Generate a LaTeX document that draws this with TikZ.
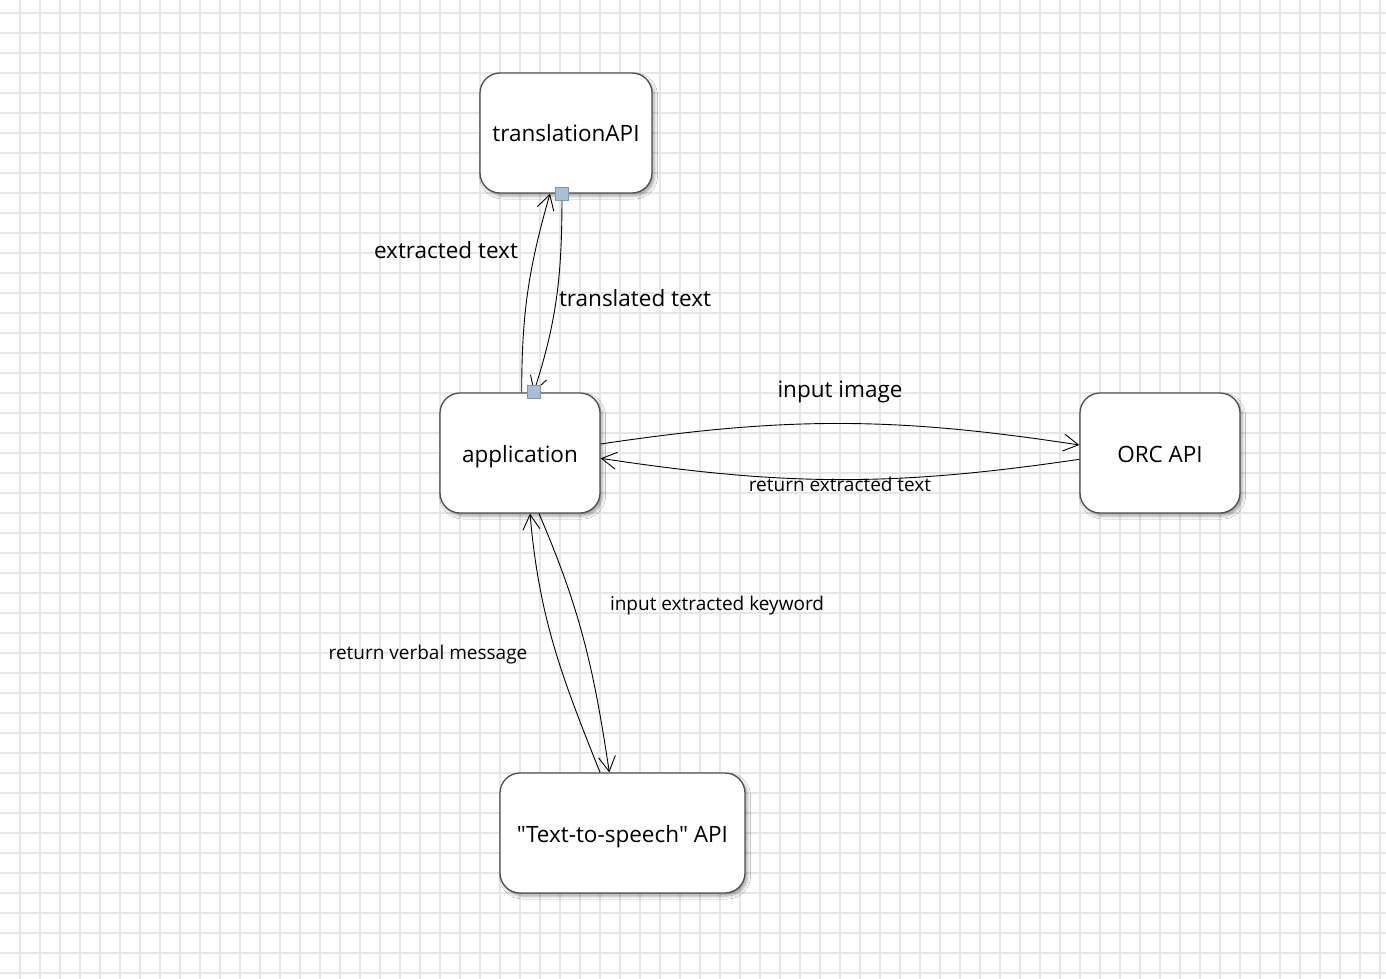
\documentclass[tikz,border=0pt]{standalone}
\usepackage{fontspec}
\setmainfont{Open Sans}
\usetikzlibrary{arrows.meta,shadows.blur}
\definecolor{gridc}{HTML}{E6E6E6}
\definecolor{boxborder}{HTML}{4D4D4D}
\definecolor{handlefill}{HTML}{A9BFD8}
\definecolor{handleborder}{HTML}{7D96B4}
\tikzset{
  gridline/.style={draw=gridc, line width=1.3pt},
  statebox/.style={draw=boxborder, line width=1.3pt, fill=white, rounded corners=20pt,
    minimum height=120pt, inner sep=0pt, font=\fontsize{22.5}{26}\selectfont,
    text height=18pt, text depth=0pt,
    blur shadow={shadow xshift=2.5pt, shadow yshift=-3pt, shadow blur radius=3pt, shadow opacity=35}},
  handle/.style={draw=handleborder, line width=0.8pt, fill=handlefill, minimum size=13pt, inner sep=0pt},
  flow/.style={draw=black, line width=0.9pt, -{Straight Barb[length=15pt,width=17pt,line width=0.9pt]}},
  biglabel/.style={inner sep=0pt, font=\fontsize{22.5}{26}\selectfont},
  smalllabel/.style={inner sep=0pt, font=\fontsize{19}{22}\selectfont},
}
\begin{document}
\begin{tikzpicture}[x=1pt,y=1pt]
\useasboundingbox (0,0) rectangle (1386,-979);
\fill[white] (0,0) rectangle (1386,-979);
\foreach \gx in {20,40,...,1380} \draw[gridline] (\gx,0) -- (\gx,-979);
\foreach \gy in {13,33,...,973} \draw[gridline] (0,-\gy) -- (1386,-\gy);

\node[statebox, minimum width=172pt] (trans) at (566,-133) {translationAPI};
\node[statebox, minimum width=160pt] (app) at (520,-453) {application};
\node[statebox, minimum width=160pt] (orc) at (1160,-453) {ORC API};
\node[statebox, minimum width=245pt] (tts) at (622.5,-833) {\textquotedbl Text-to-speech\textquotedbl{} API};

% translation <-> application
\draw[flow] ([xshift=1.7pt]app.north) to[out=90,in=-106] ([xshift=-16pt]trans.south);
\draw[flow] ([xshift=-4pt]trans.south) to[out=-90,in=72] ([xshift=13.7pt]app.north);

% application <-> ORC
\draw[flow] ([yshift=9pt]app.east) to[bend left=8.6] ([yshift=8pt]orc.west);
\draw[flow] ([yshift=-6.3pt]orc.west) to[bend left=8.5] ([yshift=-5.3pt]app.east);

% application <-> TTS
\draw[flow] ([xshift=19pt]app.south) to[out=-66.7,in=98.5] ([xshift=-13.2pt]tts.north);
\draw[flow] ([xshift=-22.5pt]tts.north) to[out=111.8,in=-85] ([xshift=10pt]app.south);

% selection handles
\node[handle] (h1) at ([xshift=-4pt]trans.south) {};
\node[handle] (h2) at ([xshift=13.7pt]app.north) {};

% labels
\node[biglabel] (l1) at (446,-250) {extracted text};
\node[biglabel] (l2) at (635,-298) {translated text};
\node[biglabel] (l3) at (840,-392) {input image};
\node[smalllabel] (l4) at (840,-484) {return extracted text};
\node[smalllabel] (l5) at (717,-606) {input extracted keyword};
\node[smalllabel] (l6) at (428,-655) {return verbal message};
\end{tikzpicture}
\end{document}
